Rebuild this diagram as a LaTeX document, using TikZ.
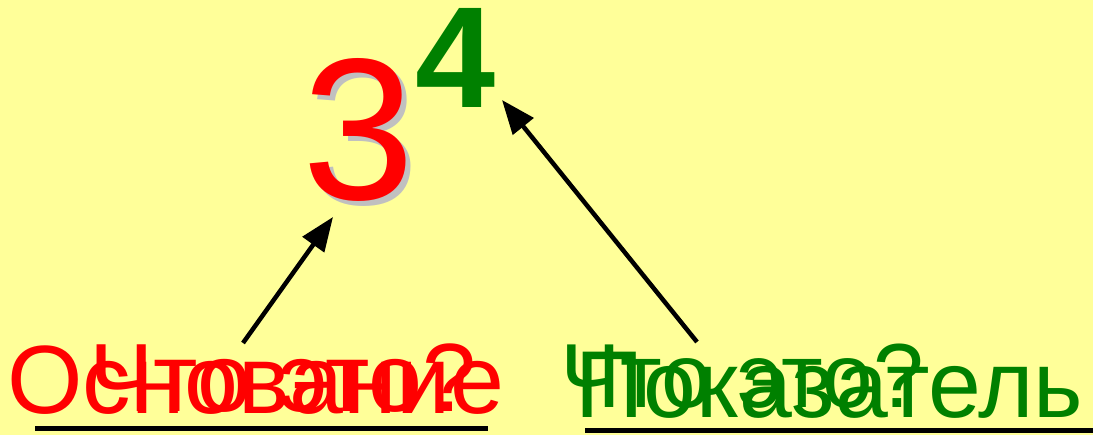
\documentclass[tikz,border=0pt]{standalone}
\usepackage{fontspec}
\setmainfont{Liberation Sans}
\usetikzlibrary{arrows.meta}
\definecolor{bgyellow}{RGB}{255,255,153}
\definecolor{tred}{RGB}{255,0,0}
\definecolor{tgreen}{RGB}{0,128,0}
\definecolor{shadowgray}{RGB}{192,192,192}
\tikzset{
  word/.style={inner sep=0pt, anchor=base west},
  redword/.style={word, text=tred, font=\fontsize{97}{97}\selectfont},
  greenword/.style={word, text=tgreen, font=\fontsize{95}{95}\selectfont},
  pointer/.style={line width=4.5pt, -{Triangle[length=34pt,width=26pt]}},
  underline/.style={line width=5pt}
}
\begin{document}
\begin{tikzpicture}[x=1pt,y=-1pt]
\fill[bgyellow] (0,0) rectangle (1093,435);
\useasboundingbox (0,0) rectangle (1093,435);
% base 3 with shadow
\node[inner sep=0pt, anchor=base west, text=shadowgray, font=\fontsize{202}{202}\selectfont] (threeshadow) at (307,205) {3};
\node[inner sep=0pt, anchor=base west, text=tred, font=\fontsize{202}{202}\selectfont] (three) at (302,200) {3};
% exponent 4
\node[inner sep=0pt, anchor=base west, text=tgreen, font=\bfseries\fontsize{144}{144}\selectfont] (four) at (415,108) {4};
% bottom words (overlapping as in the slide)
\node[redword] (osn) at (7,414) {Основание};
\node[redword] (qred) at (89,412) {Что это?};
\node[greenword] (pok) at (575,418) {Показатель};
\node[greenword, font=\fontsize{91}{91}\selectfont] (qgreen) at (560,408) {Что это?};
% underlines
\coordinate (ulA) at (35,429);
\coordinate (ulB) at (488,429);
\coordinate (urA) at (585,431);
\coordinate (urB) at (1093,431);
\draw[underline] (ulA) -- (ulB);
\draw[underline] (urA) -- (urB);
% arrows
\coordinate (al) at (243,343);
\coordinate (alt) at (333,217);
\coordinate (ar) at (697,342);
\coordinate (art) at (502,100);
\draw[pointer] (al) -- (alt);
\draw[pointer] (ar) -- (art);
\end{tikzpicture}
\end{document}
